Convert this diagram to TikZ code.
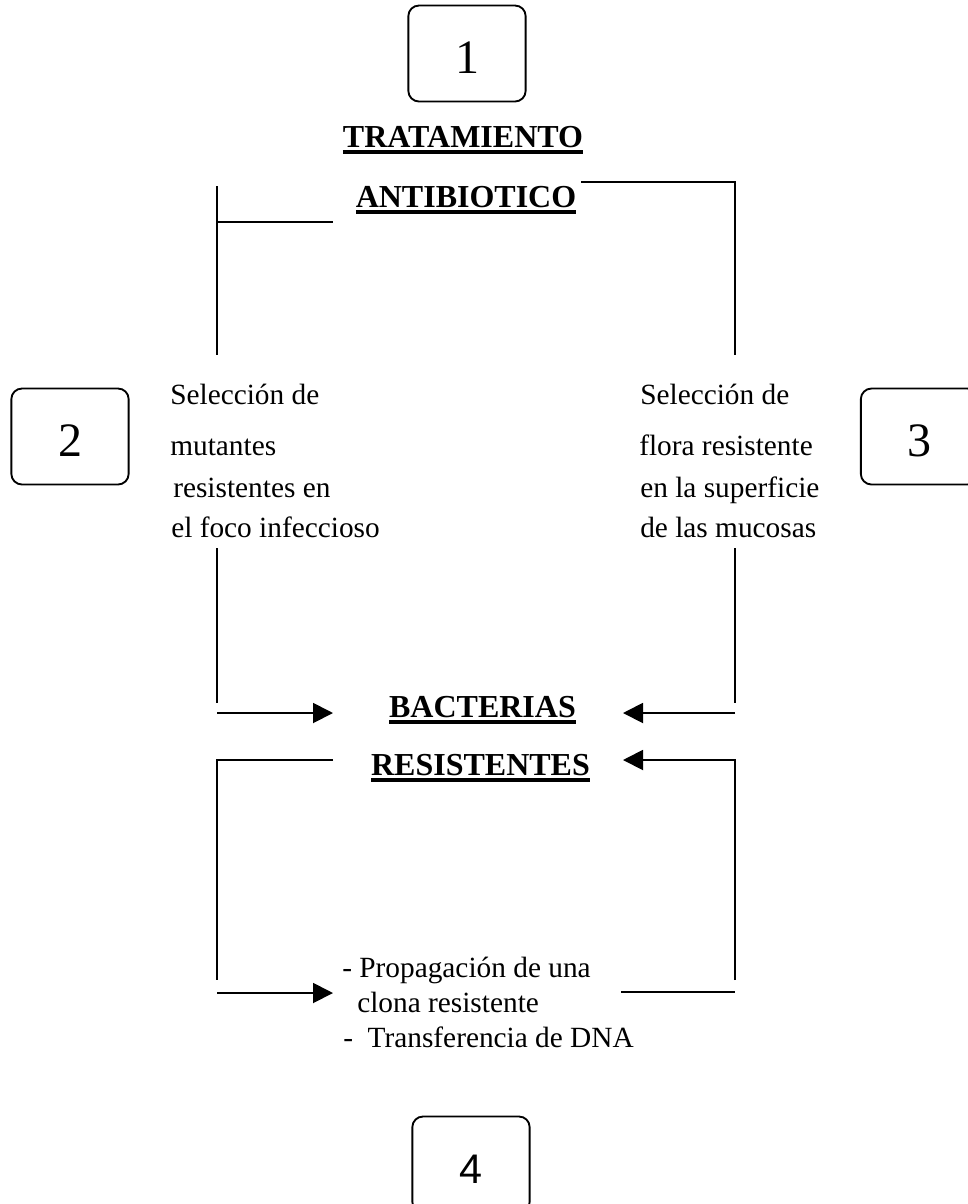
\documentclass[tikz,border=0pt]{standalone}
\usepackage{fontspec}
\setmainfont{Liberation Serif}
\newfontfamily\cuatrofont{Liberation Sans}
\usetikzlibrary{arrows.meta}
\newsavebox\titulobox
\newcommand{\subrayado}[1]{\sbox\titulobox{#1}\rlap{\rule[-5.5pt]{\wd\titulobox}{3.2pt}}\usebox\titulobox}
\tikzset{%
  % Style of the lines and arrows:
   linea/.style={
           draw=black,
           line width=1.4pt,},
   flecha/.style={
           linea,
           -{Triangle[length=15pt,width=15pt]},},
  % Style of the nodes:
   caja/.style = {rectangle, rounded corners=8pt, draw=black, line width=1.4pt,
                  minimum width=88pt, minimum height=72pt, inner sep=0pt,
                  text height=30pt, font=\fontsize{36}{40}\selectfont},
   titulo/.style = {anchor=base, inner sep=0pt,
                  font=\fontsize{24}{28}\bfseries},
   texto/.style = {anchor=base west, inner sep=0pt,
                  font=\fontsize{22}{26}\selectfont},
}
\begin{document}
\begin{tikzpicture}[x=0.75pt, y=-0.75pt]
  \useasboundingbox (0,0) rectangle (968,1204);
  \clip (0,0) rectangle (968,1204);

  % Numbered boxes
  \node (N1_block)	[caja] at (467,53.5)	{1};
  \node (N2_block)	[caja] at (70,436.5)	{2};
  \node (N3_block)	[caja] at (919.5,436.5)	{3};
  \node (N4_block)	[caja, text height=28pt, font=\cuatrofont\fontsize{31}{36}\selectfont] at (471,1164.5)	{4};

  % Titles
  \node (trat_text)	[titulo] at (463,147)	{\subrayado{TRATAMIENTO}};
  \node (anti_text)	[titulo] at (466,207)	{\subrayado{ANTIBIOTICO}};
  \node (bact_text)	[titulo] at (482.5,717)	{\subrayado{BACTERIAS}};
  \node (resi_text)	[titulo] at (480.5,775)	{\subrayado{RESISTENTES}};

  % Texts
  \node (mut1_text)	[texto] at (170,404)	{Selección de};
  \node (mut2_text)	[texto] at (170,455)	{mutantes};
  \node (mut3_text)	[texto] at (173,497)	{resistentes en};
  \node (mut4_text)	[texto] at (171,537)	{el foco infeccioso};
  \node (flo1_text)	[texto] at (640,404)	{Selección de};
  \node (flo2_text)	[texto] at (639,455)	{flora resistente};
  \node (flo3_text)	[texto] at (640,497)	{en la superficie};
  \node (flo4_text)	[texto] at (640,537)	{de las mucosas};
  \node (prop_text)	[texto] at (342,977)	{- Propagación de una};
  \node (clon_text)	[texto] at (357,1012)	{clona resistente};
  \node (tran_text)	[texto] at (343,1047)	{-~~Transferencia de DNA};

  % Free ends of the lines
  \coordinate (L1_top)	at (217,186);
  \coordinate (L1_bot)	at (217,355);
  \coordinate (L1_in)	at (217,222);
  \coordinate (L1_out)	at (333,222);
  \coordinate (R1_in)	at (581,182);
  \coordinate (R1_corner)	at (735,182);
  \coordinate (R1_bot)	at (735,355);
  \coordinate (L2_top)	at (217,548);
  \coordinate (L2_bot)	at (217,703);
  \coordinate (L2_from)	at (217,713);
  \coordinate (L2_tip)	at (333,713);
  \coordinate (R2_top)	at (735,548);
  \coordinate (R2_bot)	at (735,703);
  \coordinate (R2_from)	at (735,713);
  \coordinate (R2_tip)	at (623,713);
  \coordinate (L3_in)	at (333,760);
  \coordinate (L3_corner)	at (217,760);
  \coordinate (L3_bot)	at (217,980);
  \coordinate (L3_from)	at (217,993);
  \coordinate (L3_tip)	at (333,993);
  \coordinate (R3_bot)	at (735,980);
  \coordinate (R3_corner)	at (735,760);
  \coordinate (R3_tip)	at (623,760);
  \coordinate (R3_in)	at (621,992);
  \coordinate (R3_out)	at (735,992);

  % Lines and arrows
  \draw[linea] (L1_top) -- (L1_bot);
  \draw[linea] (L1_in) -- (L1_out);
  \draw[linea] (R1_in) -- (R1_corner) -- (R1_bot);
  \draw[linea] (L2_top) -- (L2_bot);
  \draw[flecha] (L2_from) -- (L2_tip);
  \draw[linea] (R2_top) -- (R2_bot);
  \draw[flecha] (R2_from) -- (R2_tip);
  \draw[linea] (L3_in) -- (L3_corner) -- (L3_bot);
  \draw[flecha] (L3_from) -- (L3_tip);
  \draw[flecha] (R3_bot) -- (R3_corner) -- (R3_tip);
  \draw[linea] (R3_in) -- (R3_out);

\end{tikzpicture}
\end{document}
